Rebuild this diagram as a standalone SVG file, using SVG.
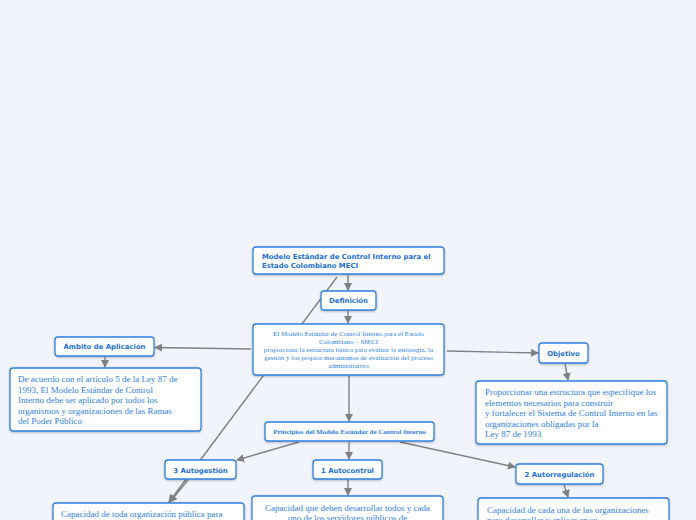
<svg xmlns="http://www.w3.org/2000/svg" width="696" height="520" viewBox="0 0 696 520">
<defs>
<marker id="ah" markerWidth="8" markerHeight="8" refX="7" refY="4" orient="auto" markerUnits="userSpaceOnUse">
<path d="M0,0 L8,4 L0,8 Z" fill="#808080"/>
</marker>
<filter id="sh" x="-10%" y="-10%" width="120%" height="140%">
<feDropShadow dx="0" dy="1" stdDeviation="0.8" flood-color="#000" flood-opacity="0.25"/>
</filter>
</defs>
<style>
.bx{fill:#fff;stroke:#2f80dc;stroke-width:1.3;filter:url(#sh)}
.t{font-family:"DejaVu Sans",Verdana,sans-serif;font-weight:bold;fill:#1b6fd4;font-size:6.9px}
.s{font-family:"Liberation Serif","Times New Roman",serif;fill:#2e7fe0}
.c{stroke:#808080;stroke-width:1.4;fill:none;marker-end:url(#ah)}
</style>
<rect width="696" height="520" fill="#f1f4fd"/>
<g id="connectors">
<line class="c" x1="348" y1="275" x2="348" y2="290"/>
<line class="c" x1="348" y1="311" x2="348" y2="323"/>
<line class="c" x1="251" y1="349" x2="155" y2="347.5"/>
<line class="c" x1="105" y1="357" x2="105" y2="367"/>
<line class="c" x1="447" y1="351" x2="538" y2="353"/>
<line class="c" x1="565" y1="364" x2="568" y2="380"/>
<line class="c" x1="349" y1="376" x2="349" y2="421"/>
<line class="c" x1="299" y1="442" x2="237" y2="460"/>
<line class="c" x1="349" y1="442" x2="349" y2="459"/>
<line class="c" x1="400" y1="442" x2="515" y2="467"/>
<line class="c" x1="188" y1="480" x2="170" y2="502"/>
<line class="c" x1="337" y1="277" x2="169" y2="502"/>
<line class="c" x1="348" y1="480" x2="348" y2="495"/>
<line class="c" x1="564" y1="485" x2="568" y2="497"/>
</g>
<g id="n-top">
<rect class="bx" x="253" y="247" width="191" height="27" rx="3"/>
<text class="t" x="262" y="259">Modelo Estándar de Control Interno para el</text>
<text class="t" x="262" y="268">Estado Colombiano MECI</text>
</g>
<g id="n-def">
<rect class="bx" x="321" y="291" width="55" height="19" rx="3"/>
<text class="t" x="348.5" y="303" text-anchor="middle">Definición</text>
</g>
<g id="n-defbody">
<rect class="bx" x="253" y="324" width="191" height="51" rx="3"/>
<g class="s" font-size="7" text-anchor="middle">
<text x="348.5" y="336">El Modelo Estándar de Control Interno para el Estado</text>
<text x="348.5" y="344">Colombiano – MECI</text>
<text x="348.5" y="352">proporciona la estructura básica para evaluar la estrategia, la</text>
<text x="348.5" y="360">gestión y los propios mecanismos de evaluación del proceso</text>
<text x="348.5" y="368">administrativo</text>
</g>
</g>
<g id="n-ambito">
<rect class="bx" x="55" y="337" width="99" height="19" rx="3"/>
<text class="t" x="104.5" y="349" text-anchor="middle">Ámbito de Aplicación</text>
</g>
<g id="n-ambitobody">
<rect class="bx" x="10" y="368" width="191" height="63" rx="3"/>
<g class="s" font-size="9">
<text x="18" y="382">De acuerdo con el artículo 5 de la Ley 87 de</text>
<text x="18" y="392.5">1993, El Modelo Estándar de Control</text>
<text x="18" y="403">Interno debe ser aplicado por todos los</text>
<text x="18" y="413.5">organismos y organizaciones de las Ramas</text>
<text x="18" y="424">del Poder Público</text>
</g>
</g>
<g id="n-obj">
<rect class="bx" x="539" y="343" width="49" height="20" rx="3"/>
<text class="t" x="563.5" y="356" text-anchor="middle">Objetivo</text>
</g>
<g id="n-objbody">
<rect class="bx" x="476" y="381" width="191" height="63" rx="3"/>
<g class="s" font-size="9">
<text x="485" y="395">Proporcionar una estructura que especifique los</text>
<text x="485" y="405.5">elementos necesarios para construir</text>
<text x="485" y="416">y fortalecer el Sistema de Control Interno en las</text>
<text x="485" y="426.5">organizaciones obligadas por la</text>
<text x="485" y="437">Ley 87 de 1993</text>
</g>
</g>
<g id="n-principios">
<rect class="bx" x="265" y="422" width="169" height="19" rx="3"/>
<text class="s" x="349.5" y="434" font-size="7" font-weight="bold" text-anchor="middle" fill="#1b6fd4">Principios del Modelo Estándar de Control Interno</text>
</g>
<g id="n-autogestion">
<rect class="bx" x="165" y="460" width="71" height="19" rx="3"/>
<text class="t" x="200.5" y="472.5" text-anchor="middle">3 Autogestión</text>
</g>
<g id="n-autocontrol">
<rect class="bx" x="313" y="460" width="69" height="19" rx="3"/>
<text class="t" x="347.5" y="472.5" text-anchor="middle">1 Autocontrol</text>
</g>
<g id="n-autorregulacion">
<rect class="bx" x="516" y="464" width="87" height="20" rx="3"/>
<text class="t" x="559.5" y="477" text-anchor="middle">2 Autorregulación</text>
</g>
<g id="n-autogestionbody">
<rect class="bx" x="53" y="503" width="191" height="40" rx="3"/>
<text class="s" x="61" y="516.5" font-size="9">Capacidad de toda organización pública para</text>
</g>
<g id="n-autocontrolbody">
<rect class="bx" x="252" y="496" width="191" height="40" rx="3"/>
<g class="s" font-size="9" text-anchor="middle">
<text x="347.5" y="510.5">Capacidad que deben desarrollar todos y cada</text>
<text x="347.5" y="521">uno de los servidores públicos de</text>
</g>
</g>
<g id="n-autorregulacionbody">
<rect class="bx" x="478" y="498" width="191" height="40" rx="3"/>
<g class="s" font-size="9">
<text x="487" y="512.5">Capacidad de cada una de las organizaciones</text>
<text x="487" y="523">para desarrollar y aplicar en su</text>
</g>
</g>
</svg>
